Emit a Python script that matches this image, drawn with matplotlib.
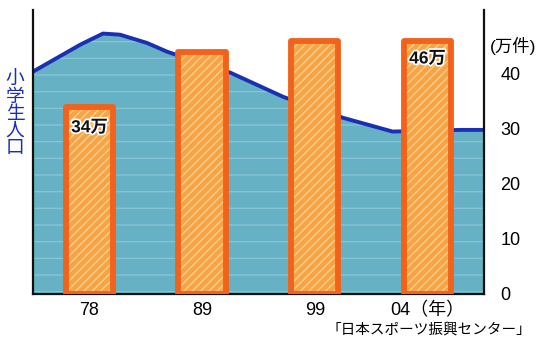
import matplotlib.pyplot as plt
import matplotlib.patheffects as pe

plt.rcParams['font.family'] = ['Liberation Sans', 'Noto Sans CJK JP', 'DejaVu Sans']
plt.rcParams['hatch.linewidth'] = 1.0

# bars: cases (万件) per year
years = ['78', '89', '99', '04（年）']
cases = [34, 44, 46, 46]

# elementary school population curve (no own scale, drawn against the same axis)
pop_x = [-0.5, -0.32, -0.08, 0.12, 0.27, 0.51, 0.69, 0.98, 1.25, 1.72, 2.25, 2.69, 3.29, 3.5]
pop_y = [40.4, 42.5, 45.3, 47.3, 47.1, 45.6, 44.0, 42.0, 40.2, 35.8, 32.0, 29.5, 29.8, 29.8]

fig = plt.figure(figsize=(5.43, 3.41), dpi=100)
ax = fig.add_axes([0.061, 0.138, 0.83, 0.833])

# blue population area
ax.fill_between(pop_x, pop_y, 0, color='#66b1c3', lw=0, zorder=1)
ax.fill_between(pop_x, pop_y, 0, facecolor='none', edgecolor='#86c4d4', hatch='-', lw=0, zorder=1)
ax.plot(pop_x, pop_y, color='#1a2fb5', lw=2.8, solid_capstyle='round', zorder=2)

# orange bars: textured fill, then thick outline
x = range(len(cases))
ax.bar(x, cases, width=0.42, color='#f6a447', zorder=3, lw=0)
ax.bar(x, cases, width=0.42, facecolor='none', edgecolor='#fbd08a', hatch='////', lw=0, zorder=3)
ax.bar(x, cases, width=0.42, facecolor='none', edgecolor='#f2621a', lw=4.2,
       joinstyle='round', zorder=4)

halo = [pe.withStroke(linewidth=2.5, foreground='white')]
ax.text(0, cases[0] - 3.8, f'{cases[0]}万', ha='center', va='center', fontsize=12.5,
        fontweight='bold', color='#111111', path_effects=halo, zorder=5)
ax.text(3, cases[3] - 3.3, f'{cases[3]}万', ha='center', va='center', fontsize=12.5,
        fontweight='bold', color='#111111', path_effects=halo, zorder=5)

ax.set_xlim(-0.5, 3.5)
ax.set_ylim(0, 51.6)
ax.set_xticks(list(x))
ax.set_xticklabels(years, fontsize=13)
ax.yaxis.tick_right()
ax.set_yticks([0, 10, 20, 30, 40])
ax.tick_params(axis='y', labelsize=13, length=0, pad=12)
ax.tick_params(axis='x', length=0, pad=6)

ax.spines['top'].set_visible(False)
for s in ['left', 'right', 'bottom']:
    ax.spines[s].set_linewidth(1.6)
    ax.spines[s].set_color('#111111')

fig.text(0.945, 0.865, '(万件)', ha='center', va='center', fontsize=12.5)
fig.text(0.028, 0.665, '\n'.join('小学生人口'), ha='center', va='center', fontsize=13.5,
         color='#1a2fb5', linespacing=1.0)
fig.text(0.79, 0.03, '「日本スポーツ振興センター」', ha='center', va='center', fontsize=10.5)

fig.savefig('out.png', dpi=100)
